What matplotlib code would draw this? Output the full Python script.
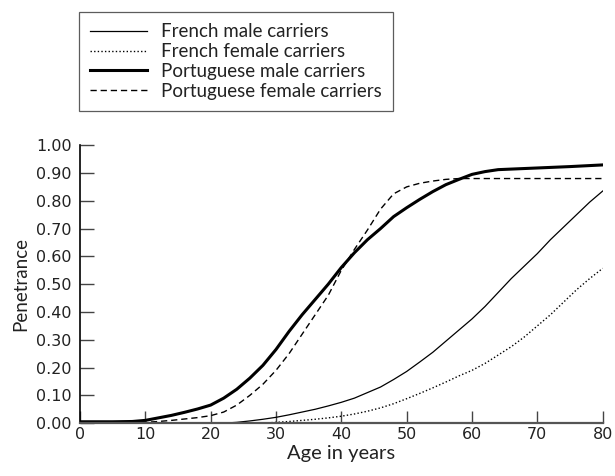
import matplotlib
matplotlib.use('Agg')
from matplotlib import pyplot as plt

plt.rcParams['font.family'] = ['Lato', 'DejaVu Sans']

# French male carriers
fm_age = [0, 22, 24, 26, 28, 30, 32, 34, 36, 38, 40, 42, 44, 46, 48, 50, 52, 54,
          56, 58, 60, 62, 64, 66, 68, 70, 72, 74, 76, 78, 80]
fm_pen = [0.0, 0.0, 0.003, 0.008, 0.014, 0.021, 0.03, 0.04, 0.05, 0.062, 0.075,
          0.09, 0.11, 0.13, 0.157, 0.186, 0.22, 0.255, 0.295, 0.335, 0.375, 0.42,
          0.47, 0.52, 0.565, 0.61, 0.66, 0.705, 0.75, 0.795, 0.835]

# French female carriers
ff_age = [0, 28, 30, 32, 34, 36, 38, 40, 42, 44, 46, 48, 50, 52, 54, 56, 58, 60,
          62, 64, 66, 68, 70, 72, 74, 76, 78, 80]
ff_pen = [0.0, 0.0, 0.003, 0.006, 0.01, 0.014, 0.019, 0.025, 0.033, 0.043, 0.055,
          0.07, 0.088, 0.107, 0.127, 0.148, 0.17, 0.19, 0.215, 0.245, 0.275, 0.31,
          0.35, 0.39, 0.435, 0.48, 0.52, 0.557]

# Portuguese male carriers
pm_age = [0, 5, 8, 10, 12, 14, 16, 18, 20, 22, 24, 26, 28, 30, 32, 34, 36, 38, 40,
          42, 44, 46, 48, 50, 52, 54, 56, 58, 60, 62, 64, 66, 70, 75, 80]
pm_pen = [0.005, 0.005, 0.006, 0.01, 0.019, 0.028, 0.039, 0.051, 0.065, 0.09,
          0.122, 0.162, 0.208, 0.265, 0.33, 0.39, 0.445, 0.50, 0.56, 0.613, 0.66,
          0.70, 0.743, 0.775, 0.805, 0.833, 0.858, 0.877, 0.895, 0.905, 0.912,
          0.914, 0.918, 0.923, 0.929]

# Portuguese female carriers
pf_age = [0, 10, 12, 14, 16, 18, 20, 22, 24, 26, 28, 30, 32, 34, 36, 38, 40, 42,
          44, 46, 48, 50, 52, 54, 56, 58, 80]
pf_pen = [0.002, 0.003, 0.006, 0.01, 0.015, 0.02, 0.027, 0.04, 0.065, 0.10, 0.14,
          0.19, 0.25, 0.32, 0.39, 0.46, 0.55, 0.625, 0.695, 0.77, 0.825, 0.85,
          0.863, 0.871, 0.877, 0.88, 0.88]

x_ticks = [0, 10, 20, 30, 40, 50, 60, 70, 80]
y_ticks = [0.0, 0.1, 0.2, 0.3, 0.4, 0.5, 0.6, 0.7, 0.8, 0.9, 1.0]

fig = plt.figure(figsize=(6.15, 4.76), dpi=100)
ax = fig.add_axes([0.130, 0.111, 0.850, 0.584])

l1, = ax.plot(fm_age, fm_pen, color='black', lw=0.9, label='French male carriers')
l2, = ax.plot(ff_age, ff_pen, color='black', lw=1.0, ls=(0, (1, 1.6)),
              label='French female carriers')
l3, = ax.plot(pm_age, pm_pen, color='black', lw=2.2, label='Portuguese male carriers')
l4, = ax.plot(pf_age, pf_pen, color='black', lw=1.0, ls=(0, (4.5, 2.8)),
              label='Portuguese female carriers')

ax.set_xlim(0, 80)
ax.set_ylim(0, 1.0)
ax.set_xticks(x_ticks)
ax.set_yticks(y_ticks)
ax.set_yticklabels(['%.2f' % v for v in y_ticks])
for lab in ax.get_xticklabels() + ax.get_yticklabels():
    lab.set_family('DejaVu Sans')
ax.tick_params(axis='both', direction='in', labelsize=11.5, color='#444444', width=1)
ax.tick_params(axis='y', length=10, pad=6, labelcolor='#222222')
ax.tick_params(axis='x', length=9, pad=3, labelcolor='#222222')

for s in ['top', 'right']:
    ax.spines[s].set_visible(False)
ax.spines['left'].set_linewidth(1.2)
ax.spines['bottom'].set_linewidth(1.6)
ax.spines['bottom'].set_color('#555555')

ax.set_xlabel('Age in years', fontsize=14.5, labelpad=2, color='#222222')
ax.set_ylabel('Penetrance', fontsize=13.5, labelpad=5, color='#222222')

leg = fig.legend(handles=[l1, l2, l3, l4], loc='upper left',
                 bbox_to_anchor=(79 / 615, 1 - 12 / 476),
                 fontsize=13.5, frameon=True, fancybox=False, edgecolor='#333333',
                 handlelength=3.0, handletextpad=0.75, labelspacing=0.15,
                 borderpad=0.6, borderaxespad=0)
leg.get_frame().set_linewidth(0.9)
for t in leg.get_texts():
    t.set_color('#222222')

fig.savefig('out.png', dpi=100)
